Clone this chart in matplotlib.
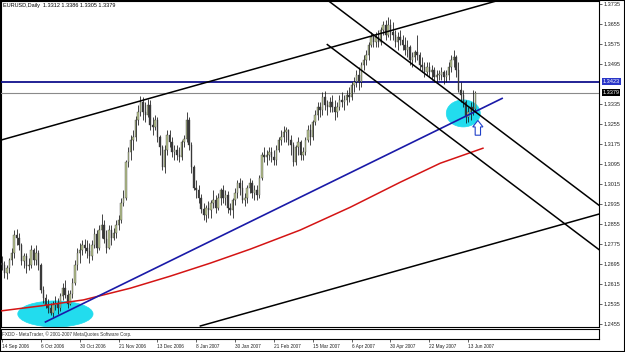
import matplotlib
matplotlib.use("Agg")
import matplotlib.pyplot as plt
from matplotlib.patches import Ellipse, Polygon, Rectangle
import matplotlib.transforms as mtransforms

plt.rcParams['font.family'] = ['Liberation Sans', 'DejaVu Sans']

# ---------------- data ----------------
chart_title = "EURUSD,Daily  1.3312 1.3386 1.3305 1.3379"
copyright_text = "FXDD - MetaTrader, \u00a9 2001-2007 MetaQuotes Software Corp."

opens = [
    1.2700, 1.2690, 1.2660, 1.2680, 1.2710, 1.2740, 1.2810, 1.2800, 1.2770, 1.2705,
    1.2725, 1.2685, 1.2690, 1.2750, 1.2710, 1.2740, 1.2690, 1.2590, 1.2560, 1.2530,
    1.2520, 1.2500, 1.2530, 1.2540, 1.2520, 1.2565, 1.2600, 1.2570, 1.2535, 1.2575,
    1.2620, 1.2690, 1.2740, 1.2750, 1.2770, 1.2760, 1.2745, 1.2725, 1.2770, 1.2815,
    1.2760, 1.2830, 1.2850, 1.2795, 1.2760, 1.2830, 1.2800, 1.2820, 1.2850, 1.2870,
    1.2940, 1.2960, 1.3100, 1.3140, 1.3190, 1.3200, 1.3270, 1.3300, 1.3340, 1.3300,
    1.3290, 1.3330, 1.3250, 1.3240, 1.3270, 1.3200, 1.3160, 1.3080, 1.3150, 1.3210,
    1.3180, 1.3140, 1.3150, 1.3130, 1.3120, 1.3180, 1.3195, 1.3270, 1.3170, 1.3080,
    1.3000, 1.2990, 1.2960, 1.2915, 1.2890, 1.2920, 1.2910, 1.2940, 1.2950, 1.2920,
    1.2960, 1.2990, 1.2960, 1.2970, 1.2920, 1.2910, 1.2950, 1.2980, 1.3020, 1.3000,
    1.2950, 1.2960, 1.3000, 1.3020, 1.2980, 1.2990, 1.2970, 1.3040, 1.3130, 1.3120,
    1.3130, 1.3140, 1.3120, 1.3110, 1.3150, 1.3190, 1.3200, 1.3220, 1.3230, 1.3190,
    1.3170, 1.3100, 1.3160, 1.3180, 1.3130, 1.3140, 1.3190, 1.3230, 1.3200, 1.3260,
    1.3290, 1.3320, 1.3310, 1.3360, 1.3330, 1.3320, 1.3340, 1.3320, 1.3300, 1.3320,
    1.3350, 1.3340, 1.3350, 1.3370, 1.3360, 1.3410, 1.3420, 1.3450, 1.3420, 1.3490,
    1.3510, 1.3530, 1.3570, 1.3600, 1.3580, 1.3600, 1.3580, 1.3630, 1.3650, 1.3610,
    1.3650, 1.3620, 1.3610, 1.3580, 1.3600, 1.3590, 1.3570, 1.3550, 1.3560, 1.3510,
    1.3520, 1.3540, 1.3530, 1.3490, 1.3480, 1.3460, 1.3480, 1.3460, 1.3470, 1.3440,
    1.3450, 1.3450, 1.3460, 1.3440, 1.3450, 1.3480, 1.3510, 1.3520, 1.3470, 1.3390,
    1.3370, 1.3340, 1.3280, 1.3300, 1.3320, 1.3312,
]
highs = [
    1.2725, 1.2705, 1.2690, 1.2720, 1.2760, 1.2830, 1.2835, 1.2820, 1.2780, 1.2740,
    1.2740, 1.2720, 1.2770, 1.2760, 1.2770, 1.2750, 1.2700, 1.2605, 1.2575, 1.2555,
    1.2540, 1.2545, 1.2565, 1.2560, 1.2580, 1.2620, 1.2630, 1.2590, 1.2590, 1.2640,
    1.2710, 1.2760, 1.2780, 1.2790, 1.2795, 1.2790, 1.2780, 1.2790, 1.2840, 1.2830,
    1.2850, 1.2895, 1.2870, 1.2830, 1.2850, 1.2850, 1.2840, 1.2870, 1.2890, 1.2960,
    1.2990, 1.3110, 1.3160, 1.3210, 1.3230, 1.3285, 1.3330, 1.3367, 1.3362, 1.3340,
    1.3355, 1.3350, 1.3280, 1.3290, 1.3280, 1.3210, 1.3170, 1.3170, 1.3230, 1.3230,
    1.3200, 1.3170, 1.3170, 1.3160, 1.3190, 1.3210, 1.3300, 1.3280, 1.3180, 1.3090,
    1.3030, 1.3010, 1.2975, 1.2940, 1.2930, 1.2945, 1.2950, 1.2990, 1.2970, 1.2980,
    1.3000, 1.3010, 1.2990, 1.2985, 1.2940, 1.2960, 1.3000, 1.3030, 1.3040, 1.3030,
    1.2980, 1.3010, 1.3040, 1.3030, 1.3010, 1.3010, 1.3050, 1.3140, 1.3160, 1.3150,
    1.3160, 1.3160, 1.3150, 1.3170, 1.3200, 1.3230, 1.3245, 1.3240, 1.3235, 1.3210,
    1.3180, 1.3170, 1.3200, 1.3190, 1.3160, 1.3200, 1.3250, 1.3255, 1.3270, 1.3310,
    1.3340, 1.3340, 1.3380, 1.3385, 1.3350, 1.3360, 1.3370, 1.3350, 1.3340, 1.3370,
    1.3380, 1.3370, 1.3390, 1.3400, 1.3420, 1.3440, 1.3470, 1.3480, 1.3500, 1.3530,
    1.3550, 1.3580, 1.3620, 1.3615, 1.3620, 1.3630, 1.3640, 1.3665, 1.3670, 1.3682,
    1.3675, 1.3660, 1.3630, 1.3620, 1.3630, 1.3610, 1.3600, 1.3590, 1.3570, 1.3540,
    1.3550, 1.3610, 1.3540, 1.3520, 1.3500, 1.3500, 1.3500, 1.3490, 1.3480, 1.3470,
    1.3470, 1.3480, 1.3470, 1.3470, 1.3500, 1.3530, 1.3550, 1.3530, 1.3500, 1.3420,
    1.3390, 1.3350, 1.3320, 1.3340, 1.3390, 1.3386,
]
lows = [
    1.2670, 1.2640, 1.2635, 1.2660, 1.2690, 1.2720, 1.2770, 1.2750, 1.2690, 1.2680,
    1.2660, 1.2670, 1.2680, 1.2690, 1.2690, 1.2670, 1.2580, 1.2540, 1.2520, 1.2500,
    1.2490, 1.2482, 1.2510, 1.2495, 1.2505, 1.2550, 1.2560, 1.2520, 1.2530, 1.2560,
    1.2610, 1.2670, 1.2700, 1.2730, 1.2740, 1.2720, 1.2700, 1.2710, 1.2760, 1.2740,
    1.2750, 1.2800, 1.2780, 1.2740, 1.2755, 1.2770, 1.2790, 1.2800, 1.2830, 1.2860,
    1.2925, 1.2950, 1.3080, 1.3110, 1.3150, 1.3185, 1.3250, 1.3285, 1.3270, 1.3260,
    1.3280, 1.3230, 1.3210, 1.3230, 1.3180, 1.3130, 1.3070, 1.3060, 1.3130, 1.3160,
    1.3120, 1.3110, 1.3110, 1.3100, 1.3110, 1.3160, 1.3180, 1.3150, 1.3060, 1.2990,
    1.2960, 1.2940, 1.2900, 1.2870, 1.2862, 1.2880, 1.2880, 1.2920, 1.2900, 1.2910,
    1.2930, 1.2940, 1.2930, 1.2900, 1.2890, 1.2878, 1.2930, 1.2960, 1.2970, 1.2940,
    1.2925, 1.2940, 1.2980, 1.2960, 1.2950, 1.2950, 1.2960, 1.3030, 1.3100, 1.3090,
    1.3110, 1.3100, 1.3090, 1.3090, 1.3140, 1.3170, 1.3180, 1.3180, 1.3170, 1.3130,
    1.3085, 1.3090, 1.3130, 1.3110, 1.3110, 1.3130, 1.3180, 1.3170, 1.3190, 1.3250,
    1.3270, 1.3280, 1.3290, 1.3310, 1.3290, 1.3300, 1.3300, 1.3270, 1.3280, 1.3310,
    1.3320, 1.3310, 1.3330, 1.3340, 1.3350, 1.3380, 1.3400, 1.3390, 1.3400, 1.3470,
    1.3490, 1.3510, 1.3560, 1.3560, 1.3560, 1.3560, 1.3570, 1.3610, 1.3590, 1.3600,
    1.3590, 1.3590, 1.3560, 1.3550, 1.3570, 1.3550, 1.3530, 1.3520, 1.3490, 1.3480,
    1.3500, 1.3510, 1.3470, 1.3460, 1.3440, 1.3450, 1.3440, 1.3430, 1.3420, 1.3420,
    1.3430, 1.3430, 1.3415, 1.3420, 1.3430, 1.3460, 1.3480, 1.3440, 1.3380, 1.3340,
    1.3320, 1.3257, 1.3260, 1.3270, 1.3290, 1.3305,
]
closes = [
    1.2690, 1.2660, 1.2680, 1.2710, 1.2740, 1.2810, 1.2800, 1.2770, 1.2705, 1.2725,
    1.2685, 1.2690, 1.2750, 1.2710, 1.2740, 1.2690, 1.2590, 1.2560, 1.2530, 1.2520,
    1.2500, 1.2530, 1.2540, 1.2520, 1.2565, 1.2600, 1.2570, 1.2535, 1.2575, 1.2620,
    1.2690, 1.2740, 1.2750, 1.2770, 1.2760, 1.2745, 1.2725, 1.2770, 1.2815, 1.2760,
    1.2830, 1.2850, 1.2795, 1.2760, 1.2830, 1.2800, 1.2820, 1.2850, 1.2870, 1.2940,
    1.2960, 1.3100, 1.3140, 1.3190, 1.3200, 1.3270, 1.3300, 1.3340, 1.3300, 1.3290,
    1.3330, 1.3250, 1.3240, 1.3270, 1.3200, 1.3160, 1.3080, 1.3150, 1.3210, 1.3180,
    1.3140, 1.3150, 1.3130, 1.3120, 1.3180, 1.3195, 1.3270, 1.3170, 1.3080, 1.3000,
    1.2990, 1.2960, 1.2915, 1.2890, 1.2920, 1.2910, 1.2940, 1.2950, 1.2920, 1.2960,
    1.2990, 1.2960, 1.2970, 1.2920, 1.2910, 1.2950, 1.2980, 1.3020, 1.3000, 1.2950,
    1.2960, 1.3000, 1.3020, 1.2980, 1.2990, 1.2970, 1.3040, 1.3130, 1.3120, 1.3130,
    1.3140, 1.3120, 1.3110, 1.3150, 1.3190, 1.3200, 1.3220, 1.3230, 1.3190, 1.3170,
    1.3100, 1.3160, 1.3180, 1.3130, 1.3140, 1.3190, 1.3230, 1.3200, 1.3260, 1.3290,
    1.3320, 1.3310, 1.3360, 1.3330, 1.3320, 1.3340, 1.3320, 1.3300, 1.3320, 1.3350,
    1.3340, 1.3350, 1.3370, 1.3360, 1.3410, 1.3420, 1.3450, 1.3420, 1.3490, 1.3510,
    1.3530, 1.3570, 1.3600, 1.3580, 1.3600, 1.3580, 1.3630, 1.3650, 1.3610, 1.3650,
    1.3620, 1.3610, 1.3580, 1.3600, 1.3590, 1.3570, 1.3550, 1.3560, 1.3510, 1.3520,
    1.3540, 1.3530, 1.3490, 1.3480, 1.3460, 1.3480, 1.3460, 1.3470, 1.3440, 1.3450,
    1.3450, 1.3460, 1.3440, 1.3450, 1.3480, 1.3510, 1.3520, 1.3470, 1.3390, 1.3370,
    1.3340, 1.3280, 1.3300, 1.3320, 1.3312, 1.3379,
]

date_labels = ["14 Sep 2006", "6 Oct 2006", "30 Oct 2006", "21 Nov 2006", "13 Dec 2006",
               "8 Jan 2007", "30 Jan 2007", "21 Feb 2007", "15 Mar 2007", "6 Apr 2007",
               "30 Apr 2007", "22 May 2007", "13 Jun 2007"]
date_bar_index = [0, 16, 32, 48, 64, 80, 96, 112, 128, 144, 160, 176, 192]

price_ticks = [1.3735, 1.3655, 1.3575, 1.3495, 1.3335, 1.3255, 1.3175, 1.3095,
               1.3015, 1.2935, 1.2855, 1.2775, 1.2695, 1.2615, 1.2535, 1.2455]
resistance_level = 1.3423
bid_level = 1.3379

# moving average (red) read at a few bars
ma_index = [-0.6, 15.8, 33.5, 52.9, 69.3, 85.8, 102.3, 122.8, 143.4, 164.0, 180.5, 198.1]
ma_values = [1.2507, 1.2527, 1.2551, 1.2598, 1.2646, 1.2698, 1.2754, 1.2830, 1.2921,
             1.3021, 1.3097, 1.3157]

# trend line (blue) end points
trend_index = [17.9, 206.0]
trend_values = [1.2463, 1.3356]

# rising channel (black)
rise_upper_index = [-0.6, 204.3]
rise_upper_values = [1.3189, 1.3747]
rise_lower_index = [81.7, 245.9]
rise_lower_values = [1.2447, 1.2894]
# falling channel (black)
fall_upper_index = [134.0, 245.9]
fall_upper_values = [1.3749, 1.2929]
fall_lower_index = [134.0, 245.9]
fall_lower_values = [1.3571, 1.2752]

# highlighted zones (cyan ellipses): centre index, centre price, width (bars), height (price)
zone_centers_index = [22.0, 190.0]
zone_centers_price = [1.2495, 1.3296]
zone_widths = [31.0, 14.0]
zone_heights = [0.0104, 0.0108]

# up arrow (bar index / price)
arrow_index = 196.0
arrow_top = 1.3268
arrow_bottom = 1.3209

# ---------------- figure ----------------
W, H = 625, 352
fig = plt.figure(figsize=(W / 100, H / 100), dpi=100)
fig.patch.set_facecolor("white")

ax = fig.add_axes([0.5 / W, (H - 327) / H, 598.5 / W, 326.5 / H])
ax.set_xlim(-0.617, 245.9)
ax.set_ylim(1.24429, 1.3747)

# zones
for cx, cy, w, h in zip(zone_centers_index, zone_centers_price, zone_widths, zone_heights):
    ax.add_patch(Ellipse((cx, cy), w, h, facecolor="#22dcee", edgecolor="#22dcee",
                         lw=0.5, zorder=1))

# horizontal lines
ax.axhline(resistance_level, color="#10108c", lw=1.3, zorder=3)
ax.axhline(bid_level, color="#8a8a8a", lw=0.8, zorder=3)

# candles
for i, (o, h, l, c) in enumerate(zip(opens, highs, lows, closes)):
    ax.plot([i, i], [l, h], color="#111111", lw=0.55, zorder=4, solid_capstyle="butt")
    bull = c >= o
    lo, hi = min(o, c), max(o, c)
    if hi - lo < 0.0004:
        mid = (hi + lo) / 2
        lo, hi = mid - 0.0002, mid + 0.0002
    ax.add_patch(Rectangle((i - 0.3, lo), 0.6, hi - lo,
                           facecolor="#b7c48e" if bull else "#3c3c3c",
                           edgecolor="#333333", lw=0.25, zorder=5))

# moving average
ax.plot(ma_index, ma_values, color="#d41414", lw=1.1, zorder=6)
# trend line
ax.plot(trend_index, trend_values, color="#1a1aa8", lw=1.2, zorder=7)
# channels
for xs, ys in [(rise_upper_index, rise_upper_values), (rise_lower_index, rise_lower_values),
               (fall_upper_index, fall_upper_values), (fall_lower_index, fall_lower_values)]:
    ax.plot(xs, ys, color="black", lw=1.1, zorder=7)

# arrow
head_base = arrow_top - (arrow_top - arrow_bottom) * 0.44
arrow_pts = [(arrow_index, arrow_top), (arrow_index + 2.1, head_base),
             (arrow_index + 1.1, head_base), (arrow_index + 1.1, arrow_bottom),
             (arrow_index - 1.1, arrow_bottom), (arrow_index - 1.1, head_base),
             (arrow_index - 2.1, head_base)]
ax.add_patch(Polygon(arrow_pts, closed=True, facecolor="white", edgecolor="#2040c8",
                     lw=0.8, zorder=8))

# axes styling
for s in ax.spines.values():
    s.set_color("black")
    s.set_linewidth(0.8)
ax.set_xticks([])
ax.yaxis.tick_right()
ax.set_yticks(price_ticks)
ax.set_yticklabels([f"{v:.4f}" for v in price_ticks])
ax.tick_params(axis="y", direction="out", length=2, width=0.5, pad=1.5,
               labelsize=4, colors="#222222")

trans = mtransforms.blended_transform_factory(ax.transAxes, ax.transData)
ax.text(1.006, resistance_level, f"{resistance_level:.4f}", transform=trans, fontsize=4,
        color="white", va="center", ha="left", zorder=10,
        bbox=dict(boxstyle="square,pad=0.15", facecolor="#2a36c8", edgecolor="none"))
ax.text(1.006, bid_level, f"{bid_level:.4f}", transform=trans, fontsize=4,
        color="white", va="center", ha="left", zorder=10,
        bbox=dict(boxstyle="square,pad=0.15", facecolor="black", edgecolor="none"))

fig.text(3 / W, 1 - 6 / H, chart_title, fontsize=4, color="black", va="center", ha="left")

# sub window + date axis
ax2 = fig.add_axes([0.5 / W, (H - 339) / H, 598.5 / W, 10 / H])
ax2.set_xlim(ax.get_xlim())
ax2.set_ylim(0, 1)
ax2.set_yticks([])
for s in ax2.spines.values():
    s.set_color("black")
    s.set_linewidth(0.8)
ax2.text(0.003, 0.45, copyright_text, transform=ax2.transAxes, fontsize=3.3,
         color="#333333", va="center", ha="left")
ax2.set_xticks(date_bar_index)
ax2.set_xticklabels(date_labels)
ax2.tick_params(axis="x", direction="out", length=2.5, width=0.5, pad=1,
                labelsize=3.4, colors="#222222")
for lbl in ax2.get_xticklabels():
    lbl.set_ha("left")

# outer border
fig.add_artist(Rectangle((0, 0), 1, 1, transform=fig.transFigure, fill=False,
                         edgecolor="black", lw=1.5))

fig.savefig("out.png", dpi=100)
